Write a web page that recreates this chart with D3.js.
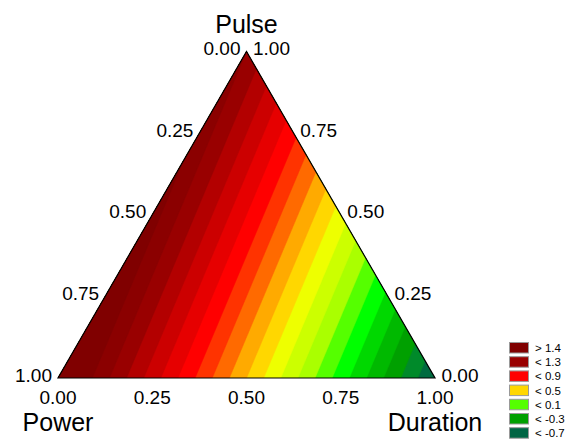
<!DOCTYPE html>
<html>
<head>
<meta charset="utf-8">
<script src="https://cdn.jsdelivr.net/npm/d3@7"></script>
<style>
  html, body { margin: 0; padding: 0; background: #fff; }
  svg { display: block; }
  text { font-family: "Liberation Sans", Arial, sans-serif; fill: #000; }
</style>
</head>
<body>
<svg id="chart" width="571" height="440"></svg>
<script>
// ---- data ----
const vertexNames = ["Power", "Duration", "Pulse"];
// response value at each pure-component vertex (linear ternary surface)
const vertexValues = [1.6, -0.6, 1.3];
const thresholds = [-0.7, -0.6, -0.5, -0.4, -0.3, -0.2, -0.1, 0.0, 0.1, 0.2, 0.3,
                    0.4, 0.5, 0.6, 0.7, 0.8, 0.9, 1.0, 1.1, 1.2, 1.3, 1.4];
const bandColors = ["#006644", "#006842", "#006b40", "#008a2a", "#00a000", "#00b900",
                    "#00d800", "#00ff00", "#55ff00", "#aaff00", "#ccff00", "#eeff00",
                    "#ffd700", "#ffaa00", "#ff6a00", "#ff3300", "#ff0000", "#e60000",
                    "#cc0000", "#b30000", "#990000", "#8b0000", "#800000"];
const tickValues = [0, 0.25, 0.5, 0.75, 1];
const tickLabels = ["0.00", "0.25", "0.50", "0.75", "1.00"];
const legendLabels = ["> 1.4", "< 1.3", "< 0.9", "< 0.5", "< 0.1", "< -0.3", "< -0.7"];
const legendBandIndex = [22, 20, 16, 12, 8, 4, 0];

// ---- layout ----
const svg = d3.select("#chart");
const xs = d3.scaleLinear().domain([0, 1]).range([58, 435]);     // Duration along base
const ys = d3.scaleLinear().domain([0, 1]).range([378, 51.5]);   // Pulse height

// ternary (power, duration, pulse) -> pixel
function pt(p, d, u) { return [xs(d + u / 2), ys(u)]; }
const A = pt(1, 0, 0), B = pt(0, 1, 0), C = pt(0, 0, 1);

// ---- field grid ----
const gx0 = 50, gy0 = 44, gw = 395, gh = 342;
const values = new Float64Array(gw * gh);
for (let j = 0; j < gh; j++) {
  for (let i = 0; i < gw; i++) {
    const X = gx0 + i + 0.5, Y = gy0 + j + 0.5;
    const u = ys.invert(Y);
    const d = xs.invert(X) - u / 2;
    const p = 1 - d - u;
    values[j * gw + i] = p * vertexValues[0] + d * vertexValues[1] + u * vertexValues[2];
  }
}
const contours = d3.contours().size([gw, gh]).thresholds(thresholds)(values);
const path = d3.geoPath(d3.geoIdentity().translate([gx0, gy0]));

const triPath = "M" + A.join(",") + "L" + B.join(",") + "L" + C.join(",") + "Z";
svg.append("clipPath").attr("id", "tri").append("path").attr("d", triPath);

const g = svg.append("g").attr("clip-path", "url(#tri)");
g.append("path").attr("d", triPath).attr("fill", bandColors[0]);
g.selectAll("path.band").data(contours).join("path")
  .attr("class", "band")
  .attr("d", path)
  .attr("fill", (c, k) => bandColors[k + 1])
  .attr("stroke", (c, k) => bandColors[k + 1])
  .attr("stroke-width", 0.6);

svg.append("path").attr("d", triPath)
  .attr("fill", "none").attr("stroke", "#000").attr("stroke-width", 1.2)
  .attr("stroke-linejoin", "miter");

// ---- tick labels ----
const fs = 19;
// bottom axis: Duration
svg.append("g").selectAll("text").data(tickValues).join("text")
  .attr("x", v => pt(1 - v, v, 0)[0])
  .attr("y", 378 + 26)
  .attr("text-anchor", "middle")
  .attr("font-size", fs)
  .text((v, i) => tickLabels[i]);
// left axis: Power (1 at bottom-left, 0 at top)
svg.append("g").selectAll("text").data(tickValues).join("text")
  .attr("x", v => pt(v, 0, 1 - v)[0] - 6)
  .attr("y", v => pt(v, 0, 1 - v)[1] - 3)
  .attr("dy", "0.35em")
  .attr("text-anchor", "end")
  .attr("font-size", fs)
  .text((v, i) => tickLabels[i]);
// right axis: Pulse (0 at bottom-right, 1 at top)
svg.append("g").selectAll("text").data(tickValues).join("text")
  .attr("x", v => pt(0, 1 - v, v)[0] + 6.5)
  .attr("y", v => pt(0, 1 - v, v)[1] - 3)
  .attr("dy", "0.35em")
  .attr("text-anchor", "start")
  .attr("font-size", fs)
  .text((v, i) => tickLabels[i]);

// ---- vertex titles ----
const tfs = 25;
svg.append("text").attr("x", C[0]).attr("y", 33).attr("text-anchor", "middle")
  .attr("font-size", tfs).text(vertexNames[2]);
svg.append("text").attr("x", A[0]).attr("y", 431).attr("text-anchor", "middle")
  .attr("font-size", tfs).text(vertexNames[0]);
svg.append("text").attr("x", B[0]).attr("y", 431).attr("text-anchor", "middle")
  .attr("font-size", tfs).text(vertexNames[1]);

// ---- legend ----
const lg = svg.append("g").attr("transform", "translate(509,342)");
const row = lg.selectAll("g").data(legendLabels).join("g")
  .attr("transform", (d, i) => `translate(0,${i * 14.2})`);
row.append("rect").attr("x", 0.5).attr("y", 0.5).attr("width", 19).attr("height", 10.5)
  .attr("fill", (d, i) => bandColors[legendBandIndex[i]])
  .attr("stroke", "#999").attr("stroke-width", 1);
row.append("text").attr("x", 26).attr("y", 6).attr("dy", "0.35em")
  .attr("font-size", 11.5).text(d => d);
</script>
</body>
</html>
